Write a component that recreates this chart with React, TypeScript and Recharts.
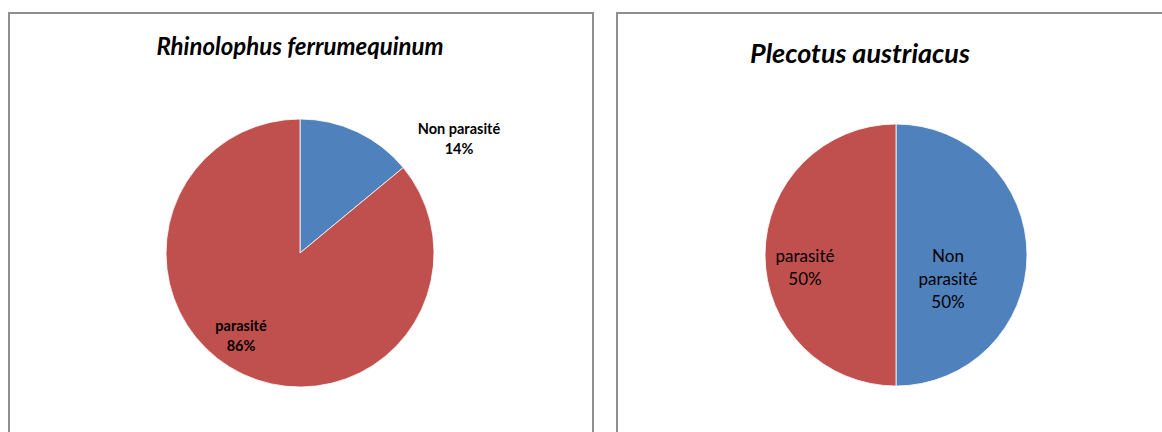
import React from "react";
import { PieChart, Pie, Cell } from "recharts";

// Parasitism status of two bat species (percent of individuals)
const categories = ["Non parasité", "parasité"];
const rhinolophusValues = [14, 86];
const plecotusValues = [50, 50];
const speciesTitles = ["Rhinolophus ferrumequinum", "Plecotus austriacus"];

const COLORS = ["#4f81bd", "#c0504d"];
const FONT = "Lato, 'Open Sans', 'Noto Sans', sans-serif";
const NO_MARGIN = { top: 0, right: 0, bottom: 0, left: 0 };

const rhinoData = categories.map((name, i) => ({ name, value: rhinolophusValues[i] }));
const plecoData = categories.map((name, i) => ({ name, value: plecotusValues[i] }));

// label placement relative to the pie centre, per slice index
const rhinoLabelOffsets = [
  { dx: 159, dy: -125, lines: (n: string) => [n] },
  { dx: -59, dy: 72, lines: (n: string) => [n] },
];
const plecoLabelOffsets = [
  { dx: 52, dy: 0, lines: (n: string) => n.split(" ") },
  { dx: -91, dy: 0, lines: (n: string) => [n] },
];

function makeLabel(
  offsets: { dx: number; dy: number; lines: (n: string) => string[] }[],
  fontSize: number,
  lineHeight: number,
  bold: boolean
) {
  return (props: any) => {
    const { cx, cy, index, name, value } = props;
    const o = offsets[index];
    const lines = [...o.lines(name), `${value}%`];
    const x = cx + o.dx;
    const y0 = cy + o.dy;
    return (
      <text
        key={`lbl-${index}`}
        x={x}
        y={y0}
        textAnchor="middle"
        fill="#000"
        fontFamily={FONT}
        fontSize={fontSize}
        fontWeight={bold ? 700 : 400}
        dominantBaseline="central"
      >
        {lines.map((l, i) => (
          <tspan key={i} x={x} y={y0 + i * lineHeight}>
            {l}
          </tspan>
        ))}
      </text>
    );
  };
}

const panelStyle: React.CSSProperties = {
  position: "absolute",
  top: 12,
  height: 440,
  border: "2px solid #8f8f8f",
  boxSizing: "border-box",
  background: "#fff",
};

const titleStyle: React.CSSProperties = {
  position: "absolute",
  fontFamily: FONT,
  fontWeight: 700,
  fontStyle: "italic",
  color: "#000",
  whiteSpace: "nowrap",
  transform: "translateX(-50%)",
  lineHeight: 1,
};

export default function App() {
  return (
    <div
      style={{
        position: "absolute",
        left: 0,
        top: 0,
        width: 1162,
        height: 432,
        overflow: "hidden",
        background: "#fff",
      }}
    >
      <div style={{ ...panelStyle, left: 8, width: 586 }} />
      <div style={{ ...panelStyle, left: 616, width: 560 }} />

      <div style={{ ...titleStyle, left: 300, top: 34, fontSize: 24 }}>{speciesTitles[0]}</div>
      <div style={{ ...titleStyle, left: 860, top: 39, fontSize: 27 }}>{speciesTitles[1]}</div>

      <div style={{ position: "absolute", left: 0, top: 0 }}>
        <PieChart width={600} height={432} margin={NO_MARGIN}>
          <Pie
            data={rhinoData}
            dataKey="value"
            nameKey="name"
            cx={300}
            cy={253}
            outerRadius={134}
            startAngle={90}
            endAngle={-270}
            stroke="#ffffff"
            strokeWidth={0.8}
            labelLine={false}
            label={makeLabel(rhinoLabelOffsets, 14.5, 19.5, true)}
            isAnimationActive={false}
          >
            {rhinoData.map((d, i) => (
              <Cell key={d.name} fill={COLORS[i]} />
            ))}
          </Pie>
        </PieChart>
      </div>

      <div style={{ position: "absolute", left: 600, top: 0 }}>
        <PieChart width={562} height={432} margin={NO_MARGIN}>
          <Pie
            data={plecoData}
            dataKey="value"
            nameKey="name"
            cx={296}
            cy={255}
            outerRadius={131}
            startAngle={90}
            endAngle={-270}
            stroke="#ffffff"
            strokeWidth={0.8}
            labelLine={false}
            label={makeLabel(plecoLabelOffsets, 17, 23, false)}
            isAnimationActive={false}
          >
            {plecoData.map((d, i) => (
              <Cell key={d.name} fill={COLORS[i]} />
            ))}
          </Pie>
        </PieChart>
      </div>
    </div>
  );
}
